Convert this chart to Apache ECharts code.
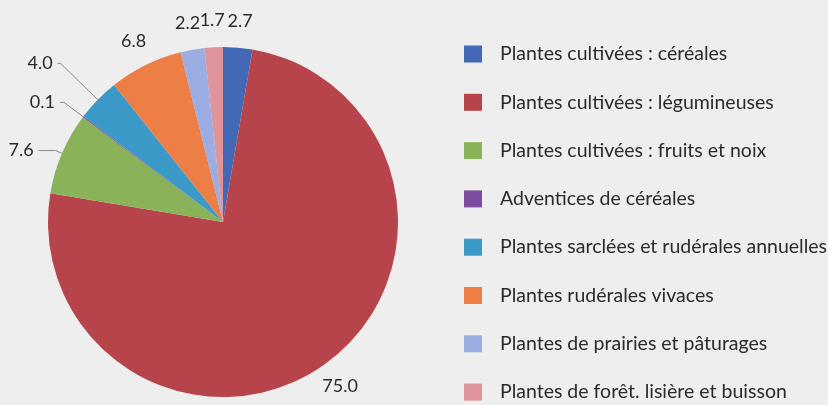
<!DOCTYPE html>
<html>
<head>
<meta charset="utf-8">
<script src="https://cdn.jsdelivr.net/npm/echarts@6/dist/echarts.min.js"></script>
<style>
  html, body { margin: 0; padding: 0; background: #eeeeee; }
  #chart { width: 828px; height: 405px; }
</style>
</head>
<body>
<div id="chart"></div>
<script>
var categories = [
    'Plantes cultivées : céréales',
    'Plantes cultivées : légumineuses',
    'Plantes cultivées : fruits et noix',
    'Adventices de céréales',
    'Plantes sarclées et rudérales annuelles',
    'Plantes rudérales vivaces',
    'Plantes de prairies et pâturages',
    'Plantes de forêt. lisière et buisson'
];
var values = [2.7, 75.0, 7.6, 0.1, 4.0, 6.8, 2.2, 1.7];
var colors = ['#4368b6', '#b8444b', '#8ab259', '#7b4c9f', '#3b99c7', '#ec7e46', '#9badE2', '#df939a'];
// labels drawn with a leader line (the others sit just outside the rim)
var withLine = [false, false, true, true, true, false, false, false];
var lineLength = [0, 0, 7, 24, 52, 0, 0, 0];
var lineLength2 = [0, 0, 17, 4, 3, 0, 0, 0];

var font = 'Lato, "Noto Sans", sans-serif';
var center = [223, 222];

var mainData = categories.map(function (name, i) {
    return {
        name: name,
        value: values[i],
        itemStyle: { color: colors[i] },
        label: { show: withLine[i] },
        labelLine: { show: withLine[i], length: lineLength[i], length2: lineLength2[i] }
    };
});

var rimData = categories.map(function (name, i) {
    return {
        name: name,
        value: values[i],
        label: { show: !withLine[i] }
    };
});

var myChart = echarts.init(document.getElementById('chart'));
myChart.setOption({
    backgroundColor: '#eeeeee',
    animation: false,
    legend: {
        orient: 'vertical',
        left: 464,
        top: 44,
        height: 392,
        padding: 0,
        itemWidth: 18,
        itemHeight: 17,
        itemGap: 28.3,
        icon: 'rect',
        data: categories,
        textStyle: {
            fontFamily: font,
            fontSize: 19.5,
            color: '#2b2b2b',
            padding: [0, 0, 0, 13]
        }
    },
    series: [{
        type: 'pie',
        center: center,
        radius: 175,
        startAngle: 90,
        avoidLabelOverlap: false,
        data: mainData,
        label: {
            position: 'outside',
            formatter: function (p) { return p.value.toFixed(1); },
            fontFamily: font,
            fontSize: 18,
            color: '#2b2b2b'
        },
        labelLine: {
            lineStyle: { color: '#8a8a8a', width: 1 }
        },
        emphasis: { disabled: true }
    }, {
        type: 'pie',
        center: center,
        radius: [170, 228],
        startAngle: 90,
        silent: true,
        avoidLabelOverlap: false,
        data: rimData,
        itemStyle: { color: 'rgba(0,0,0,0)' },
        label: {
            position: 'inside',
            formatter: function (p) { return p.value.toFixed(1); },
            fontFamily: font,
            fontSize: 18,
            color: '#2b2b2b'
        },
        labelLayout: { hideOverlap: false },
        labelLine: { show: false },
        emphasis: { disabled: true }
    }]
});
</script>
</body>
</html>
